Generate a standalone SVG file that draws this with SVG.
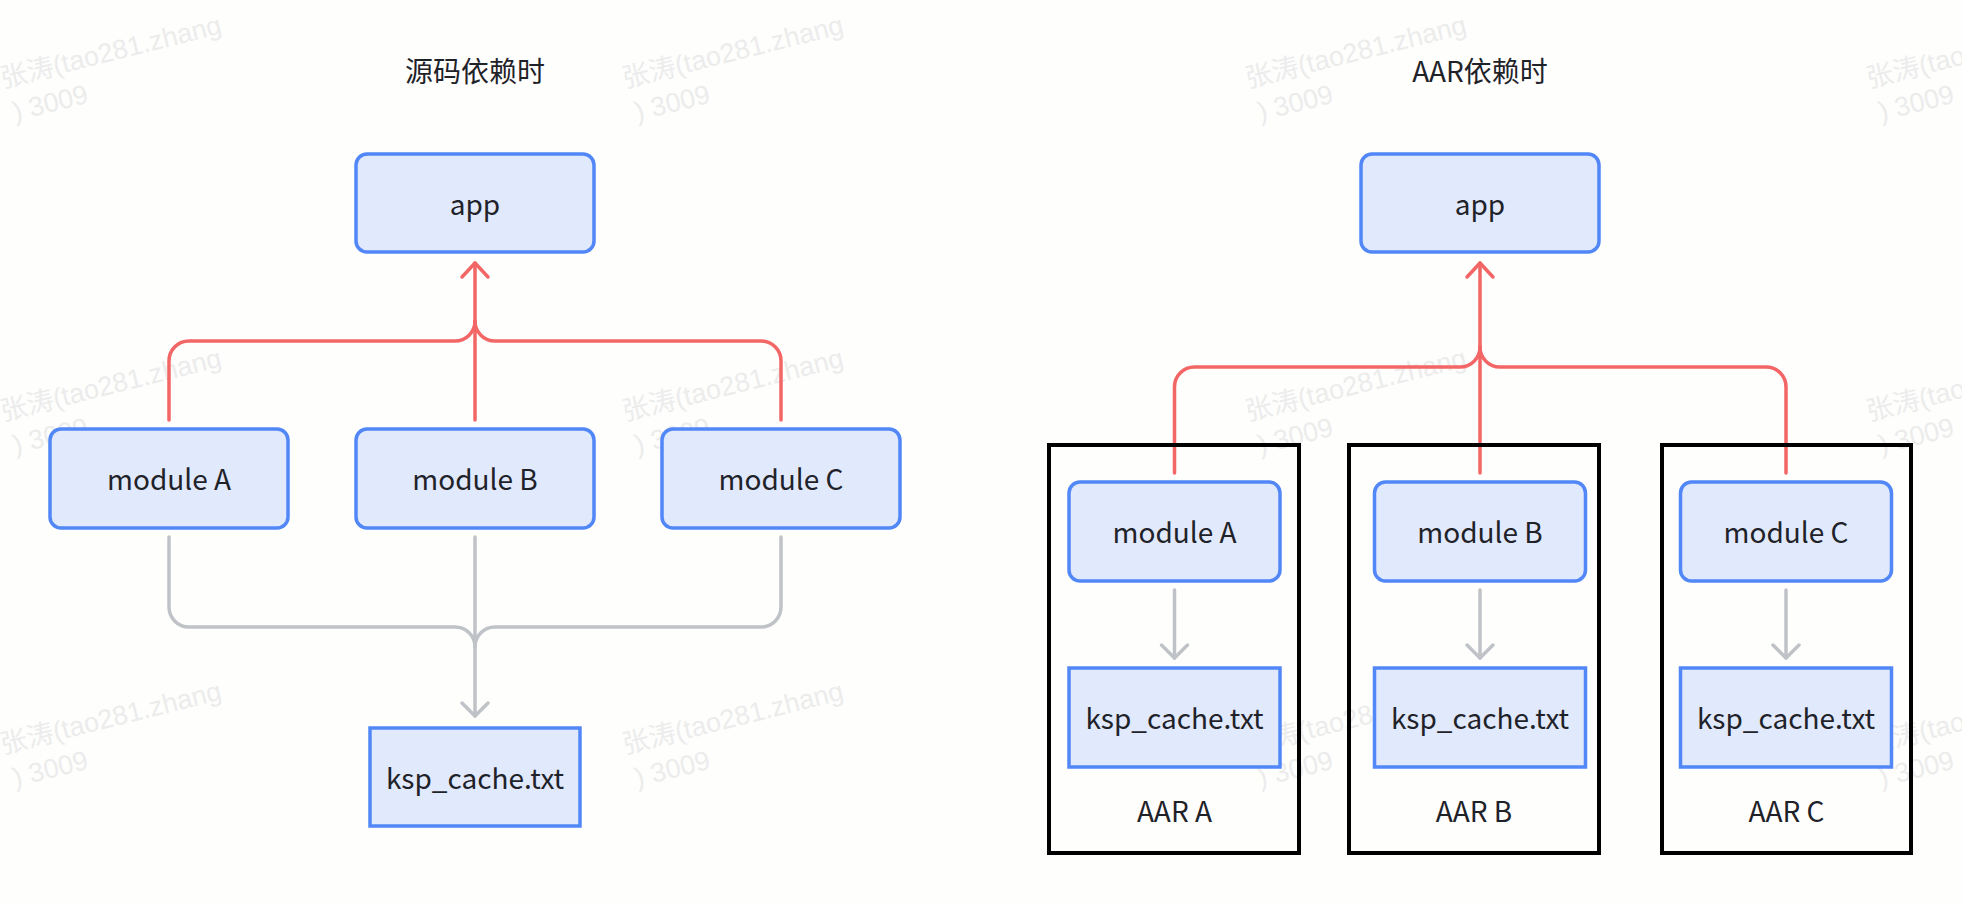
<svg xmlns="http://www.w3.org/2000/svg" width="1962" height="904" viewBox="0 0 1962 904">
<defs>
<style>
.bg{fill:#fefefd}
.node{fill:#e1e9fc;stroke:#5187f7;stroke-width:3.5}
.lbl{font-family:"Noto Sans CJK SC","Noto Sans",sans-serif;font-size:28px;fill:#1f2329;text-anchor:middle;dominant-baseline:central}
.title{font-family:"Noto Sans CJK SC","Noto Sans",sans-serif;font-size:28px;fill:#1f2329;text-anchor:middle;dominant-baseline:central}
.aar{fill:none;stroke:#000;stroke-width:4}
.red{fill:none;stroke:#f26666;stroke-width:3.5;stroke-linecap:round}
.grey{fill:none;stroke:#bfc2c7;stroke-width:3.5;stroke-linecap:round}
.wm{font-family:"Liberation Sans",Arial,"Noto Sans CJK SC",sans-serif;font-size:27px;fill:#ececec}
</style>
<marker id="arRed" markerUnits="userSpaceOnUse" markerWidth="40" markerHeight="40" viewBox="-20 -20 40 40" refX="0" refY="0" orient="auto">
<path d="M-14,-13 L0,0 L-14,13" fill="none" stroke="#f26666" stroke-width="3.5" stroke-linecap="round" stroke-linejoin="round"/>
</marker>
<marker id="arGrey" markerUnits="userSpaceOnUse" markerWidth="40" markerHeight="40" viewBox="-20 -20 40 40" refX="0" refY="0" orient="auto">
<path d="M-13,-13 L0,0 L-13,13" fill="none" stroke="#bfc2c7" stroke-width="3.5" stroke-linecap="round" stroke-linejoin="round"/>
</marker>
<g id="wmtile">
<text class="wm" x="0" y="0">张涛(tao281.zhang</text>
<text class="wm" x="4" y="35">) 3009</text>
</g>
</defs>
<rect class="bg" x="0" y="0" width="1962" height="904"/>

<g id="watermarks">
<use href="#wmtile" transform="translate(3,88) rotate(-14)"/>
<use href="#wmtile" transform="translate(625,88) rotate(-14)"/>
<use href="#wmtile" transform="translate(1248,88) rotate(-14)"/>
<use href="#wmtile" transform="translate(1869,88) rotate(-14)"/>
<use href="#wmtile" transform="translate(3,421) rotate(-14)"/>
<use href="#wmtile" transform="translate(625,421) rotate(-14)"/>
<use href="#wmtile" transform="translate(1248,421) rotate(-14)"/>
<use href="#wmtile" transform="translate(1869,421) rotate(-14)"/>
<use href="#wmtile" transform="translate(3,754) rotate(-14)"/>
<use href="#wmtile" transform="translate(625,754) rotate(-14)"/>
<use href="#wmtile" transform="translate(1248,754) rotate(-14)"/>
<use href="#wmtile" transform="translate(1869,754) rotate(-14)"/>
</g>

<text id="title-left" class="title" x="475" y="70">源码依赖时</text>
<text id="title-right" class="title" x="1480" y="70">AAR依赖时</text>

<g id="connectors">
<!-- left red -->
<path class="red" d="M475,420 V263" marker-end="url(#arRed)"/>
<path class="red" d="M169,420 V361 A20,20 0 0 1 189,341 H455 A20,20 0 0 0 475,321"/>
<path class="red" d="M781,420 V361 A20,20 0 0 0 761,341 H495 A20,20 0 0 1 475,321"/>
<!-- left grey -->
<path class="grey" d="M475,537 V716" marker-end="url(#arGrey)"/>
<path class="grey" d="M169,537 V607 A20,20 0 0 0 189,627 H455 A20,20 0 0 1 475,647"/>
<path class="grey" d="M781,537 V607 A20,20 0 0 1 761,627 H495 A20,20 0 0 0 475,647"/>
<!-- right red -->
<path class="red" d="M1480,473 V263" marker-end="url(#arRed)"/>
<path class="red" d="M1174.5,473 V387 A20,20 0 0 1 1194.5,367 H1460 A20,20 0 0 0 1480,347"/>
<path class="red" d="M1786,473 V387 A20,20 0 0 0 1766,367 H1500 A20,20 0 0 1 1480,347"/>
<!-- right grey -->
<path class="grey" d="M1174.5,590 V658" marker-end="url(#arGrey)"/>
<path class="grey" d="M1480,590 V658" marker-end="url(#arGrey)"/>
<path class="grey" d="M1786,590 V658" marker-end="url(#arGrey)"/>
</g>

<!-- left diagram -->
<g id="app-left"><rect class="node" x="356" y="154" width="238" height="98" rx="11"/><text class="lbl" x="475" y="203">app</text></g>
<g id="moduleA-left"><rect class="node" x="50" y="429" width="238" height="99" rx="11"/><text class="lbl" x="169" y="478">module A</text></g>
<g id="moduleB-left"><rect class="node" x="356" y="429" width="238" height="99" rx="11"/><text class="lbl" x="475" y="478">module B</text></g>
<g id="moduleC-left"><rect class="node" x="662" y="429" width="238" height="99" rx="11"/><text class="lbl" x="781" y="478">module C</text></g>
<g id="ksp-left"><rect class="node" x="370" y="728" width="210" height="98"/><text class="lbl" x="475" y="777">ksp_cache.txt</text></g>

<!-- right diagram -->
<g id="app-right"><rect class="node" x="1361" y="154" width="238" height="98" rx="11"/><text class="lbl" x="1480" y="203">app</text></g>

<g id="aarA"><rect class="aar" x="1049" y="445" width="250" height="408"/><text class="lbl" x="1174.5" y="810">AAR A</text></g>
<g id="aarB"><rect class="aar" x="1349" y="445" width="250" height="408"/><text class="lbl" x="1474" y="810">AAR B</text></g>
<g id="aarC"><rect class="aar" x="1662" y="445" width="249" height="408"/><text class="lbl" x="1786.5" y="810">AAR C</text></g>

<g id="moduleA-right"><rect class="node" x="1069" y="482" width="211" height="99" rx="11"/><text class="lbl" x="1174.5" y="531">module A</text></g>
<g id="moduleB-right"><rect class="node" x="1374.5" y="482" width="211" height="99" rx="11"/><text class="lbl" x="1480" y="531">module B</text></g>
<g id="moduleC-right"><rect class="node" x="1680.5" y="482" width="211" height="99" rx="11"/><text class="lbl" x="1786" y="531">module C</text></g>

<g id="kspA-right"><rect class="node" x="1069" y="668" width="211" height="99"/><text class="lbl" x="1174.5" y="717">ksp_cache.txt</text></g>
<g id="kspB-right"><rect class="node" x="1374.5" y="668" width="211" height="99"/><text class="lbl" x="1480" y="717">ksp_cache.txt</text></g>
<g id="kspC-right"><rect class="node" x="1680.5" y="668" width="211" height="99"/><text class="lbl" x="1786" y="717">ksp_cache.txt</text></g>
</svg>
